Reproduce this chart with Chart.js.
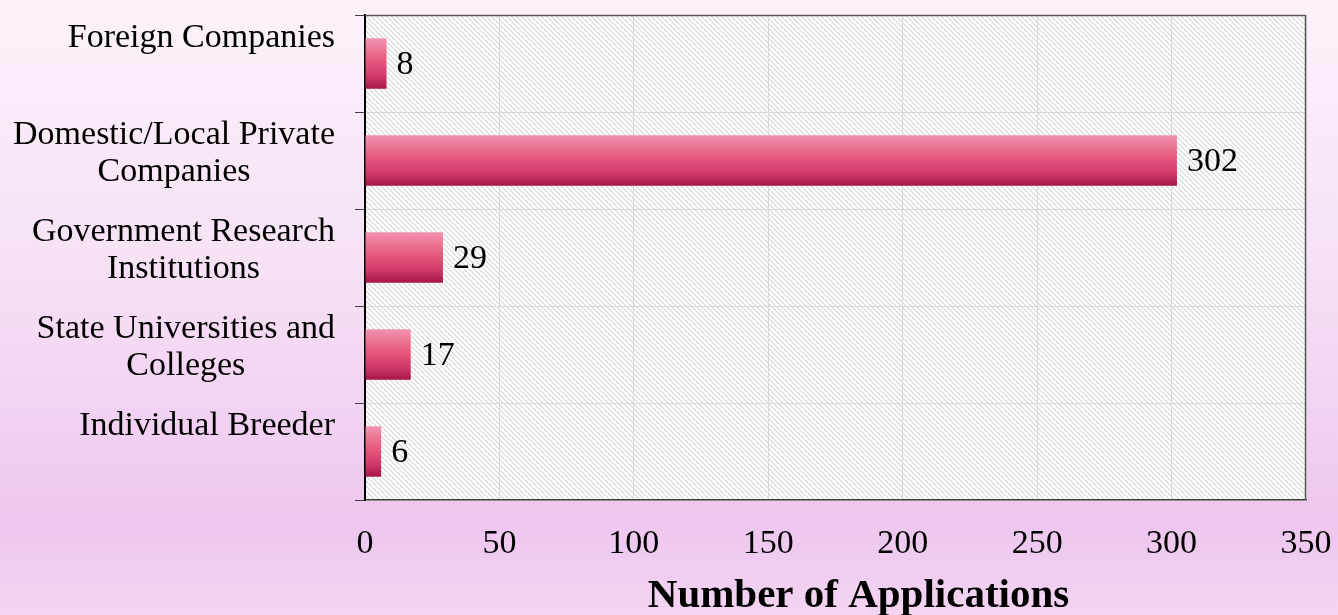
<!DOCTYPE html>
<html>
<head>
<meta charset="utf-8">
<script src="https://cdn.jsdelivr.net/npm/chart.js@4/dist/chart.umd.min.js"></script>
<style>
  html, body { margin: 0; padding: 0; }
  body {
    width: 1338px; height: 615px; overflow: hidden;
    background: linear-gradient(to bottom, #fcf2fb 0%, #f6e0f5 45%, #eec6ef 85%, #f3d4f1 100%);
  }
  #wrap { position: relative; width: 1338px; height: 615px; }
</style>
</head>
<body>
<div id="wrap"><canvas id="chart"></canvas></div>
<script>
// Applications by applicant type (horizontal bars)
const categories = [
  "Foreign Companies",
  ["Domestic/Local Private", "Companies"],
  ["Government Research", "Institutions"],
  ["State Universities and", "Colleges"],
  "Individual Breeder",
];
const applications = [8, 302, 29, 17, 6];
const xTicks = [0, 50, 100, 150, 200, 250, 300, 350];
const xTitle = "Number of Applications";

const FONT = "'Liberation Serif', 'Times New Roman', serif";
const BAR_PCT = 0.52;
const LINE_H = 37;

// diagonal hatch used as the plot-area fill
function makeHatch() {
  const c = document.createElement("canvas");
  c.width = 5; c.height = 5;
  const g = c.getContext("2d");
  g.fillStyle = "#ffffff";
  g.fillRect(0, 0, 5, 5);
  g.strokeStyle = "#d6d6d6";
  g.lineWidth = 1.2;
  g.beginPath();
  g.moveTo(-1, -1); g.lineTo(6, 6);
  g.moveTo(-1, 4);  g.lineTo(1, 6);
  g.moveTo(4, -1);  g.lineTo(6, 1);
  g.stroke();
  return c;
}
const hatch = makeHatch();

function barGradient(ctx) {
  const chart = ctx.chart;
  const area = chart.chartArea;
  if (!area || ctx.dataIndex === undefined) return "#e35580";
  const y = chart.scales.y.getPixelForValue(ctx.dataIndex);
  const h = (area.bottom - area.top) / categories.length * BAR_PCT;
  const gr = chart.ctx.createLinearGradient(0, y - h / 2, 0, y + h / 2);
  gr.addColorStop(0, "#f293ad");
  gr.addColorStop(0.45, "#e5587f");
  gr.addColorStop(0.75, "#cf3a68");
  gr.addColorStop(1, "#a6144a");
  return gr;
}

const plotBg = {
  id: "plotBg",
  beforeDraw(chart) {
    const { ctx, chartArea: a } = chart;
    ctx.save();
    ctx.fillStyle = ctx.createPattern(hatch, "repeat");
    ctx.fillRect(a.left, a.top, a.right - a.left, a.bottom - a.top);
    ctx.restore();
  },
  afterDraw(chart) {
    const { ctx, chartArea: a } = chart;
    ctx.save();
    // frame on top and right
    ctx.strokeStyle = "#595959";
    ctx.lineWidth = 1.5;
    ctx.beginPath();
    ctx.moveTo(a.left, a.top + 0.5);
    ctx.lineTo(a.right - 0.5, a.top + 0.5);
    ctx.lineTo(a.right - 0.5, a.bottom);
    ctx.stroke();
    // axis title, slightly right of centre like the original
    ctx.fillStyle = "#000";
    ctx.font = "bold 41px " + FONT;
    ctx.textAlign = "center";
    ctx.textBaseline = "middle";
    ctx.fillText(xTitle, (a.left + a.right) / 2 + 23, 596);
    ctx.restore();
  },
};

// category labels: block right-aligned to the axis, lines centred in the block,
// single-line labels sit in the upper part of their band like the original
const catLabels = {
  id: "catLabels",
  afterDraw(chart) {
    const { ctx } = chart;
    const y = chart.scales.y;
    const right = chart.chartArea.left - 30;
    ctx.save();
    ctx.fillStyle = "#000";
    ctx.font = "34px " + FONT;
    ctx.textAlign = "center";
    ctx.textBaseline = "middle";
    categories.forEach((c, i) => {
      const lines = Array.isArray(c) ? c : [c];
      const w = Math.max(...lines.map(l => ctx.measureText(l).width));
      const cx = right - w / 2;
      const top = y.getPixelForValue(i) - 7 - LINE_H / 2;
      lines.forEach((l, k) => ctx.fillText(l, cx, top + k * LINE_H));
    });
    ctx.restore();
  },
};

const valueLabels = {
  id: "valueLabels",
  afterDatasetsDraw(chart) {
    const { ctx } = chart;
    const meta = chart.getDatasetMeta(0);
    ctx.save();
    ctx.fillStyle = "#000";
    ctx.font = "34px " + FONT;
    ctx.textAlign = "left";
    ctx.textBaseline = "middle";
    meta.data.forEach((bar, i) => {
      ctx.fillText(String(applications[i]), bar.x + 10, bar.y + 2);
    });
    ctx.restore();
  },
};

new Chart(document.getElementById("chart"), {
  type: "bar",
  data: {
    labels: categories,
    datasets: [{
      data: applications,
      backgroundColor: barGradient,
      borderWidth: 0,
      categoryPercentage: 1,
      barPercentage: BAR_PCT,
    }],
  },
  options: {
    indexAxis: "y",
    responsive: true,
    maintainAspectRatio: false,
    animation: false,
    layout: { padding: { top: 15, right: 32, bottom: 0, left: 0 } },
    plugins: {
      legend: { display: false },
      tooltip: { enabled: false },
    },
    scales: {
      x: {
        min: 0, max: 350,
        afterBuildTicks: (s) => { s.ticks = xTicks.map(v => ({ value: v })); },
        afterFit: (s) => {
          s.height = 115;
          s.paddingLeft = 0; s.paddingRight = 0;
        },
        grid: { color: "#d9d9d9", lineWidth: 1, drawTicks: false },
        border: { color: "#404040", width: 1.5 },
        ticks: {
          color: "#000",
          padding: 24,
          maxRotation: 0,
          font: { family: FONT, size: 34 },
        },
      },
      y: {
        afterFit: (s) => {
          s.width = 365;
          s.paddingTop = 0; s.paddingBottom = 0;
        },
        grid: {
          offset: true,
          color: "#d9d9d9",
          tickColor: "#404040",
          tickLength: 10,
          lineWidth: 1,
        },
        border: { color: "#000", width: 2 },
        ticks: { display: false },
      },
    },
  },
  plugins: [plotBg, catLabels, valueLabels],
});
</script>
</body>
</html>
